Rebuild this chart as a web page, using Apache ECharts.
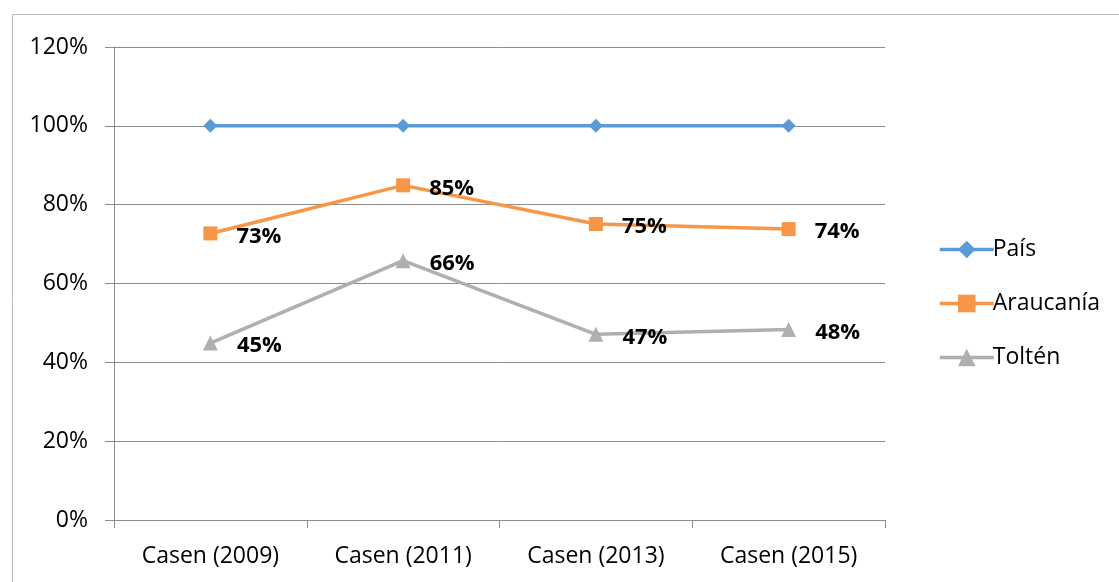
<!DOCTYPE html>
<html>
<head>
<meta charset="utf-8">
<script src="https://cdn.jsdelivr.net/npm/echarts@6/dist/echarts.min.js"></script>
<style>
  html, body { margin: 0; padding: 0; background: #fff; }
  #chart { width: 1119px; height: 582px; }
</style>
</head>
<body>
<div id="chart"></div>
<script>
const categories = ["Casen (2009)", "Casen (2011)", "Casen (2013)", "Casen (2015)"];
const pais = [100, 100, 100, 100];
const araucania = [72.7, 84.9, 75.1, 73.8];
const tolten = [44.9, 65.8, 47.1, 48.3];
const seriesNames = ["País", "Araucanía", "Toltén"];
const colors = ["#5B9BD5", "#F79646", "#AFAFAF"];

const FONT = "'Open Sans', 'Noto Sans', sans-serif";
const chart = echarts.init(document.getElementById("chart"));

// labels sit to the right of the marker, a little lower
const dataLabel = {
  show: true,
  position: "right",
  distance: 19,
  offset: [0, 3],
  fontFamily: FONT,
  fontSize: 22,
  fontWeight: "bold",
  color: "#000",
  formatter: (p) => Math.round(p.value) + "%",
};

const option = {
  animation: false,
  color: colors,
  textStyle: { fontFamily: FONT },
  graphic: [
    {
      type: "rect",
      left: 10,
      top: 12,
      shape: { width: 1200, height: 700 },
      style: { fill: "none", stroke: "#BDBDBD", lineWidth: 1 },
      silent: true,
    },
  ],
  grid: { left: 114, top: 47, right: 234, bottom: 62, containLabel: false },
  legend: {
    orient: "vertical",
    left: 933,
    top: 233,
    itemWidth: 54,
    itemHeight: 22,
    itemGap: 31,
    data: seriesNames,
    lineStyle: { width: 3.5 },
    textStyle: { fontFamily: FONT, fontSize: 23, color: "#000", padding: [0, 0, 0, -6] },
  },
  xAxis: {
    type: "category",
    data: categories,
    boundaryGap: true,
    axisLine: { lineStyle: { color: "#8C8C8C", width: 1 } },
    axisTick: { show: true, length: 8, lineStyle: { color: "#8C8C8C" } },
    axisLabel: { margin: 25, fontFamily: FONT, fontSize: 23, color: "#000" },
    splitLine: { show: false },
  },
  yAxis: {
    type: "value",
    min: 0,
    max: 120,
    interval: 20,
    axisLine: { show: true, lineStyle: { color: "#8C8C8C", width: 1 } },
    axisTick: { show: true, length: 9, lineStyle: { color: "#8C8C8C" } },
    axisLabel: { margin: 26, fontFamily: FONT, fontSize: 23, color: "#000", formatter: "{value}%" },
    splitLine: { show: true, lineStyle: { color: "#8C8C8C", width: 1 } },
  },
  series: [
    {
      name: seriesNames[0],
      type: "line",
      data: pais,
      symbol: "diamond",
      symbolSize: 14,
      lineStyle: { width: 3.5 },
    },
    {
      name: seriesNames[1],
      type: "line",
      data: araucania,
      symbol: "rect",
      symbolSize: 14,
      lineStyle: { width: 3.5 },
      label: dataLabel,
    },
    {
      name: seriesNames[2],
      type: "line",
      data: tolten,
      symbol: "triangle",
      symbolSize: 15,
      lineStyle: { width: 3.5 },
      label: dataLabel,
    },
  ],
};

chart.setOption(option);
</script>
</body>
</html>
